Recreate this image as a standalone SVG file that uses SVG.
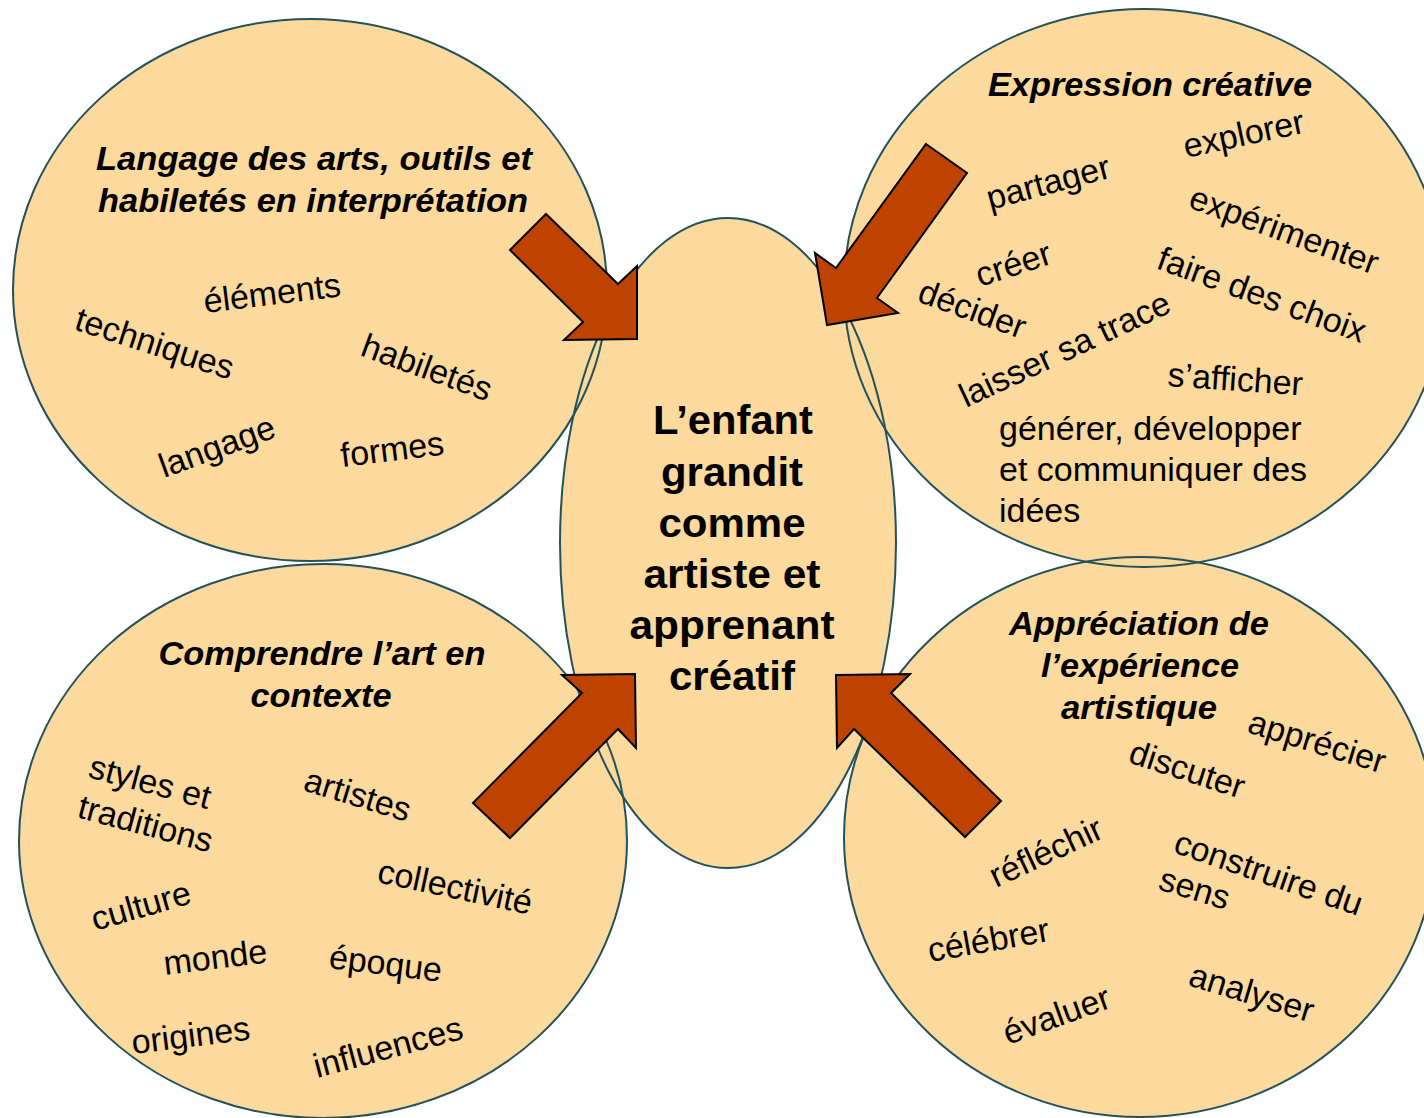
<svg xmlns="http://www.w3.org/2000/svg" width="1424" height="1118" viewBox="0 0 1424 1118">
<style>
.fill{fill:#FCD99D;stroke:none}
.outline{fill:none;stroke:#23525C;stroke-width:2}
.arrow{fill:#BE4200;stroke:#000;stroke-width:2;stroke-linejoin:miter}
.w{font-family:"Liberation Sans",Arial,sans-serif;font-size:34px;fill:#000}
.t{font-family:"Liberation Sans",Arial,sans-serif;font-size:34px;font-weight:bold;font-style:italic;fill:#000;text-anchor:middle}
.c{font-family:"Liberation Sans",Arial,sans-serif;font-size:40px;font-weight:bold;fill:#000;text-anchor:middle}
</style>
<rect width="1424" height="1118" fill="#fff"/>
<g id="shapes">
<ellipse class="fill" cx="310" cy="290" rx="297" ry="271"/>
<ellipse class="fill" cx="1144" cy="288" rx="300" ry="279"/>
<ellipse class="fill" cx="323" cy="841" rx="304" ry="277"/>
<ellipse class="fill" cx="1140" cy="837" rx="296" ry="280"/>
<ellipse class="fill" cx="728" cy="543" rx="168" ry="325"/>
</g>
<g id="outlines">
<ellipse class="outline" cx="310" cy="290" rx="297" ry="271"/>
<ellipse class="outline" cx="1144" cy="288" rx="300" ry="279"/>
<ellipse class="outline" cx="323" cy="841" rx="304" ry="277"/>
<ellipse class="outline" cx="1140" cy="837" rx="296" ry="280"/>
<ellipse class="outline" cx="728" cy="543" rx="168" ry="325"/>
</g>
<g id="node-langage">
<text class="t" x="314" y="170" textLength="436" lengthAdjust="spacingAndGlyphs">Langage des arts, outils et</text>
<text class="t" x="313" y="212" textLength="430" lengthAdjust="spacingAndGlyphs">habiletés en interprétation</text>
<text class="w" transform="translate(205,313) rotate(-7)">éléments</text>
<text class="w" transform="translate(73,329) rotate(18)">techniques</text>
<text class="w" transform="translate(359,355) rotate(20)">habiletés</text>
<text class="w" transform="translate(164,478) rotate(-20)">langage</text>
<text class="w" transform="translate(342,467) rotate(-7)">formes</text>
</g>
<g id="node-expression">
<text class="t" x="1150" y="96" textLength="324" lengthAdjust="spacingAndGlyphs">Expression créative</text>
<text class="w" transform="translate(1186,158) rotate(-12)">explorer</text>
<text class="w" transform="translate(990,210) rotate(-15)">partager</text>
<text class="w" transform="translate(1187,207) rotate(20)">expérimenter</text>
<text class="w" transform="translate(980,287) rotate(-18)">créer</text>
<text class="w" transform="translate(916,301) rotate(20)">décider</text>
<text class="w" transform="translate(1155,268) rotate(20)">faire des choix</text>
<text class="w" transform="translate(966,408) rotate(-25)">laisser sa trace</text>
<text class="w" transform="translate(1167,386) rotate(4)">s’afficher</text>
<text class="w" x="999" y="440">générer, développer</text>
<text class="w" x="999" y="481">et communiquer des</text>
<text class="w" x="999" y="522">idées</text>
</g>
<g id="node-comprendre">
<text class="t" x="322" y="665" textLength="327" lengthAdjust="spacingAndGlyphs">Comprendre l’art en</text>
<text class="t" x="321" y="707" textLength="141" lengthAdjust="spacingAndGlyphs">contexte</text>
<text class="w" transform="translate(87,777) rotate(15)">styles et</text>
<text class="w" transform="translate(76,817) rotate(15)">traditions</text>
<text class="w" transform="translate(302,790) rotate(17)">artistes</text>
<text class="w" transform="translate(95,931) rotate(-16)">culture</text>
<text class="w" transform="translate(376,882) rotate(12)">collectivité</text>
<text class="w" transform="translate(165,975) rotate(-7)">monde</text>
<text class="w" transform="translate(328,968) rotate(7)">époque</text>
<text class="w" transform="translate(133,1054) rotate(-7)">origines</text>
<text class="w" transform="translate(317,1078) rotate(-15)">influences</text>
</g>
<g id="node-appreciation">
<text class="t" x="1139" y="635" textLength="260" lengthAdjust="spacingAndGlyphs">Appréciation de</text>
<text class="t" x="1140" y="677" textLength="198" lengthAdjust="spacingAndGlyphs">l’expérience</text>
<text class="t" x="1139" y="719" textLength="156" lengthAdjust="spacingAndGlyphs">artistique</text>
<text class="w" transform="translate(1246,732) rotate(17)">apprécier</text>
<text class="w" transform="translate(1127,762) rotate(18)">discuter</text>
<text class="w" transform="translate(996,888) rotate(-25)">réfléchir</text>
<text class="w" transform="translate(1172,852) rotate(19)">construire du</text>
<text class="w" transform="translate(1157,889) rotate(17)">sens</text>
<text class="w" transform="translate(930,962) rotate(-10)">célébrer</text>
<text class="w" transform="translate(1187,985) rotate(17)">analyser</text>
<text class="w" transform="translate(1008,1045) rotate(-20)">évaluer</text>
</g>
<g id="node-center">
<text class="c" x="733" y="434" textLength="160" lengthAdjust="spacingAndGlyphs">L’enfant</text>
<text class="c" x="732" y="486" textLength="142" lengthAdjust="spacingAndGlyphs">grandit</text>
<text class="c" x="732" y="537" textLength="147" lengthAdjust="spacingAndGlyphs">comme</text>
<text class="c" x="732" y="588" textLength="177" lengthAdjust="spacingAndGlyphs">artiste et</text>
<text class="c" x="732" y="639" textLength="205" lengthAdjust="spacingAndGlyphs">apprenant</text>
<text class="c" x="732" y="690" textLength="126" lengthAdjust="spacingAndGlyphs">créatif</text>
</g>
<g id="connectors">
<polygon class="arrow" points="510,250 546,214 618,284 637,266 637,339 564,340 583,322"/>
<polygon class="arrow" points="926,144 967,173 877,298 898,313 827,325 815,253 836,268"/>
<polygon class="arrow" points="562,675 635,674 636,748 618,729 510,838 473,803 582,693"/>
<polygon class="arrow" points="836,675 910,674 891,693 1001,801 965,837 854,729 837,748"/>
</g>
</svg>
